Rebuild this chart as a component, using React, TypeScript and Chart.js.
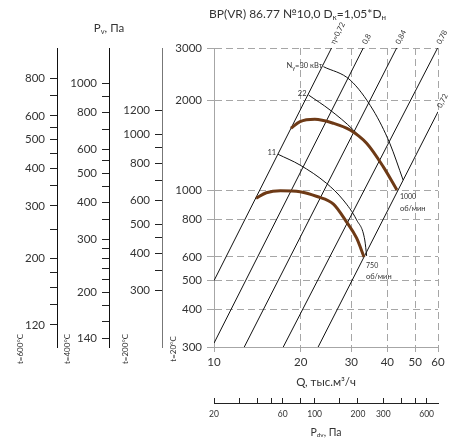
import React, { useEffect, useRef } from "react";
import { Chart, registerables } from "chart.js";

Chart.register(...registerables);

// ---------- data ----------
const Q_TICKS = [10, 20, 30, 40, 50, 60];
const P_TICKS = [300, 400, 500, 600, 800, 1000, 2000, 3000];
const PDV_TICKS = [20, 30, 40, 50, 60, 80, 100, 150, 200, 300, 400, 500, 600];
const PDV_LABELS = [20, 60, 100, 200, 300, 600];
const T600_TICKS = [800, 700, 600, 550, 500, 450, 400, 350, 300, 250, 200, 180, 160, 140, 120];
const T600_LABELS = [800, 600, 500, 400, 300, 200, 120];
const T400_TICKS = [1000, 900, 800, 700, 600, 550, 500, 450, 400, 350, 300, 280, 260, 240, 220, 200, 180, 160, 140];
const T400_LABELS = [1000, 800, 600, 500, 400, 300, 200, 140];
const T200_TICKS = [1200, 1000, 900, 800, 700, 600, 500, 450, 400, 350, 300];
const T200_LABELS = [1200, 1000, 800, 600, 500, 400, 300];

// efficiency lines (start / end)
const ETA_LABELS = ["η=0,72", "0,8", "0,84", "0,78", "0,72"];
const ETA_Q = [[10, 25.6], [10, 33.0], [12.74, 43.1], [17.4, 59.8], [23.0, 60]];
const ETA_P = [[500, 3000], [309, 3000], [300, 3000], [300, 3000], [300, 1836]];

// fan curves
const FAN_1000_Q = [18.5, 19.9, 22.4, 26.0, 29.7, 33.9, 38.7, 43.2];
const FAN_1000_P = [1616, 1701, 1732, 1680, 1595, 1440, 1203, 1005];
const FAN_750_Q = [14.0, 15.2, 17.0, 19.9, 22.8, 26.0, 28.9, 31.3, 33.2];
const FAN_750_P = [943, 984, 1000, 992, 956, 902, 785, 694, 600];

// power lines
const N30_Q = [24.0, 29.7, 35.7, 40.8, 45.4];
const N30_P = [2598, 2345, 1861, 1440, 1085];
const N22_Q = [21.3, 25.3, 30.5, 36.7, 43.1];
const N22_P = [2089, 1861, 1595, 1299, 1005];
const N11_Q = [16.7, 19.9, 24.6, 28.1, 31.3, 33.4, 33.9];
const N11_P = [1323, 1218, 1058, 931, 798, 684, 605];

const FONT = "Lato";
const TXT = "#333";
const GRID = "#a6a6a6";
const BROWN = "#6e3a16";

const pts = (qs: number[], ps: number[]) => qs.map((q, i) => ({ x: q, y: ps[i] }));

type Piece = { t: string; s: number; dy?: number };
function drawRich(ctx: CanvasRenderingContext2D, pieces: Piece[], x: number, y: number, align: string) {
  let w = 0;
  for (const p of pieces) {
    ctx.font = `${p.s}px ${FONT}`;
    w += ctx.measureText(p.t).width;
  }
  let cx = align === "left" ? x : align === "center" ? x - w / 2 : x - w;
  ctx.textAlign = "left";
  ctx.textBaseline = "alphabetic";
  for (const p of pieces) {
    ctx.font = `${p.s}px ${FONT}`;
    ctx.fillText(p.t, cx, y + (p.dy || 0));
    cx += ctx.measureText(p.t).width;
  }
}

const annotPlugin = {
  id: "annot",
  afterDraw(chart: any) {
    const ctx: CanvasRenderingContext2D = chart.ctx;
    const sx = chart.scales.x;
    const sy = chart.scales.y;
    const px = (q: number) => sx.getPixelForValue(q);
    const py = (p: number) => sy.getPixelForValue(p);
    ctx.save();
    ctx.fillStyle = TXT;

    // main title
    drawRich(ctx, [
      { t: "BP(VR) 86.77 №10,0 D", s: 12 },
      { t: "к", s: 8, dy: 2 },
      { t: "=1,05*D", s: 12 },
      { t: "н", s: 8, dy: 2 },
    ], chart.chartArea.left - 5, 18, "left");

    // Pv title above temperature axes
    const s400 = chart.scales.y400;
    drawRich(ctx, [
      { t: "P", s: 11.5 },
      { t: "v", s: 7.5, dy: 2 },
      { t: ", Па", s: 11.5 },
    ], s400.right, 32, "center");

    // temperature titles (vertical)
    const tTitles: [string, string, number][] = [
      ["y600", "t=600°C", 37],
      ["y400", "t=400°C", 42],
      ["y200", "t=200°C", 37],
      ["y", "t=20°C", 41],
    ];
    for (const [id, text, off] of tTitles) {
      const s = chart.scales[id];
      ctx.save();
      ctx.translate(s.right - off, chart.chartArea.bottom + 2);
      ctx.rotate(-Math.PI / 2);
      ctx.font = `8px ${FONT}`;
      ctx.textAlign = "center";
      ctx.textBaseline = "middle";
      ctx.fillText(text, 0, 0);
      ctx.restore();
    }

    // Pdv title under second axis
    const s2 = chart.scales.x2;
    drawRich(ctx, [
      { t: "P", s: 10.5 },
      { t: "dv", s: 6.5, dy: 1 },
      { t: ", Па", s: 10.5 },
    ], (s2.left + s2.right) / 2, 436, "center");

    // efficiency labels
    for (let i = 0; i < ETA_Q.length; i++) {
      const x0 = px(ETA_Q[i][0]), y0 = py(ETA_P[i][0]);
      const x1 = px(ETA_Q[i][1]), y1 = py(ETA_P[i][1]);
      const ang = Math.atan2(y1 - y0, x1 - x0);
      ctx.save();
      ctx.translate(x1 + 1, y1 - 2);
      ctx.rotate(ang);
      ctx.font = `7.5px ${FONT}`;
      ctx.textAlign = "left";
      ctx.textBaseline = "middle";
      ctx.fillText(ETA_LABELS[i], 2, -1);
      ctx.restore();
    }

    // power labels
    drawRich(ctx, [
      { t: "N", s: 7.5 },
      { t: "у", s: 5.5, dy: 2 },
      { t: "=30 кВт", s: 7.5 },
    ], px(N30_Q[0]) - 1, py(N30_P[0]) + 1, "right");
    drawRich(ctx, [{ t: "22", s: 7.5 }], px(N22_Q[0]) - 2, py(N22_P[0]) + 1, "right");
    drawRich(ctx, [{ t: "11", s: 7.5 }], px(N11_Q[0]) - 2, py(N11_P[0]) + 1, "right");

    // speed labels
    const e1x = px(FAN_1000_Q[FAN_1000_Q.length - 1]);
    const e1y = py(FAN_1000_P[FAN_1000_P.length - 1]);
    drawRich(ctx, [{ t: "1000", s: 7 }], e1x + 3, e1y + 9, "left");
    drawRich(ctx, [{ t: "об/мин", s: 7.5 }], e1x + 3, e1y + 21, "left");
    const e2x = px(FAN_750_Q[FAN_750_Q.length - 1]);
    const e2y = py(FAN_750_P[FAN_750_P.length - 1]);
    drawRich(ctx, [{ t: "750", s: 7 }], e2x + 2, e2y + 11, "left");
    drawRich(ctx, [{ t: "об/мин", s: 7.5 }], e2x + 2, e2y + 22, "left");

    ctx.restore();
  },
};

function tempAxis(ticks: number[], labels: number[], min: number, max: number, weight: number, width: number, lineColor: string) {
  return {
    type: "logarithmic",
    position: "left",
    weight,
    min,
    max,
    afterBuildTicks: (s: any) => {
      s.ticks = ticks.map((v) => ({ value: v }));
    },
    afterFit: (s: any) => {
      s.width = width;
    },
    ticks: {
      autoSkip: false,
      padding: 5,
      color: TXT,
      font: { family: FONT, size: 11.5 },
      callback: (v: number) => (labels.includes(v) ? String(v) : ""),
    },
    grid: { drawOnChartArea: false, tickLength: 7, tickColor: "#222", tickWidth: 1 },
    border: { display: true, color: lineColor, width: 1 },
  };
}

export default function App() {
  const ref = useRef<HTMLCanvasElement | null>(null);

  useEffect(() => {
    document.body.style.margin = "0";
    const canvas = ref.current;
    if (!canvas) return;

    const thin = { borderColor: "#111", borderWidth: 1, pointRadius: 0, fill: false };
    const datasets: any[] = [
      { label: "1000", data: pts(FAN_1000_Q, FAN_1000_P), borderColor: BROWN, borderWidth: 3, pointRadius: 0, cubicInterpolationMode: "monotone" },
      { label: "750", data: pts(FAN_750_Q, FAN_750_P), borderColor: BROWN, borderWidth: 3, pointRadius: 0, cubicInterpolationMode: "monotone" },
      { label: "N30", data: pts(N30_Q, N30_P), ...thin, cubicInterpolationMode: "monotone" },
      { label: "N22", data: pts(N22_Q, N22_P), ...thin, cubicInterpolationMode: "monotone" },
      { label: "N11", data: pts(N11_Q, N11_P), ...thin, cubicInterpolationMode: "monotone" },
      ...ETA_Q.map((qq, i) => ({
        label: ETA_LABELS[i],
        data: [{ x: qq[0], y: ETA_P[i][0] }, { x: qq[1], y: ETA_P[i][1] }],
        ...thin,
      })),
    ];

    const chart = new Chart(canvas, {
      type: "line",
      data: { datasets },
      plugins: [annotPlugin],
      options: {
        responsive: false,
        animation: false,
        events: [],
        layout: { padding: { top: 48, right: 18, left: 0, bottom: 0 } },
        plugins: { legend: { display: false }, tooltip: { enabled: false }, title: { display: false } },
        scales: {
          x: {
            type: "logarithmic",
            position: "bottom",
            weight: 0,
            min: 10,
            max: 60,
            afterBuildTicks: (s: any) => {
              s.ticks = Q_TICKS.map((v) => ({ value: v }));
            },
            afterFit: (s: any) => {
              s.height = 56;
            },
            ticks: {
              autoSkip: false,
              maxRotation: 0,
              minRotation: 0,
              padding: 3,
              color: TXT,
              font: { family: FONT, size: 11.5 },
              callback: (v: number) => String(v),
            },
            grid: {
              color: (c: any) => (c.tick && c.tick.value === 10 ? "rgba(0,0,0,0)" : GRID),
              tickLength: 5,
              tickColor: GRID,
              lineWidth: 1,
            },
            border: { display: true, color: GRID, dash: [7, 4] },
            title: {
              display: true,
              text: "Q, тыс.м³/ч",
              color: TXT,
              font: { family: FONT, size: 11.5 },
              padding: { top: 0, bottom: 14 },
            },
          },
          x2: {
            type: "logarithmic",
            position: "bottom",
            weight: 1,
            min: 20,
            max: 720,
            afterBuildTicks: (s: any) => {
              s.ticks = PDV_TICKS.map((v) => ({ value: v }));
            },
            afterFit: (s: any) => {
              s.height = 40;
            },
            ticks: {
              autoSkip: false,
              maxRotation: 0,
              minRotation: 0,
              padding: 11,
              color: TXT,
              font: { family: FONT, size: 8.5 },
              callback: (v: number) => (PDV_LABELS.includes(v) ? String(v) : ""),
            },
            grid: { drawOnChartArea: false, tickLength: -5, tickColor: "#222" },
            border: { display: true, color: "#222" },
          },
          y: {
            type: "logarithmic",
            position: "left",
            weight: 1,
            min: 300,
            max: 3000,
            afterBuildTicks: (s: any) => {
              s.ticks = P_TICKS.map((v) => ({ value: v }));
            },
            afterFit: (s: any) => {
              s.width = 52;
            },
            ticks: {
              autoSkip: false,
              padding: 5,
              color: TXT,
              font: { family: FONT, size: 11.5 },
              callback: (v: number) => String(v),
            },
            grid: {
              color: (c: any) => (c.tick && c.tick.value === 300 ? "rgba(0,0,0,0)" : GRID),
              tickLength: 7,
              tickColor: GRID,
              lineWidth: 1,
            },
            border: { display: true, color: GRID, dash: [7, 4] },
          },
          y200: tempAxis(T200_TICKS, T200_LABELS, 194.2, 1942, 2, 53, "#777"),
          y400: tempAxis(T400_TICKS, T400_LABELS, 131.1, 1311, 3, 52, "#111"),
          y600: tempAxis(T600_TICKS, T600_LABELS, 101.25, 1012.5, 4, 57, "#111"),
        } as any,
      },
    } as any);

    return () => chart.destroy();
  }, []);

  return <canvas ref={ref} width={456} height={443} style={{ display: "block" }} />;
}
